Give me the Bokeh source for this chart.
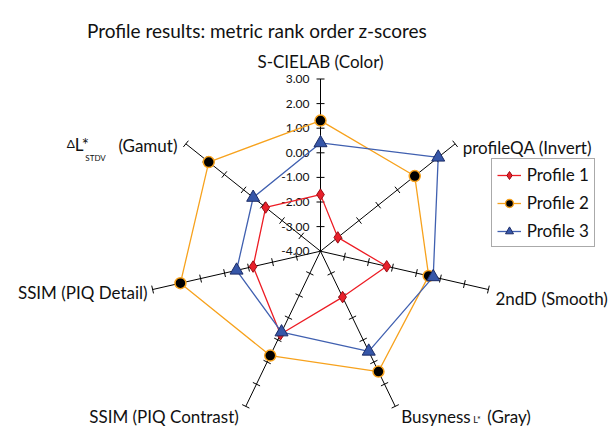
import math
from bokeh.plotting import figure
from bokeh.models import Range1d, Legend, LegendItem
from bokeh.core.properties import value
from bokeh.embed import file_html
from bokeh.resources import INLINE

# ---------------- data ----------------
metrics = ["S-CIELAB (Color)", "profileQA (Invert)", "2ndD (Smooth)",
           "Busyness (Gray)", "SSIM (PIQ Contrast)", "SSIM (PIQ Detail)",
           "ΔL* (Gamut)"]
series_names = ["Profile 1", "Profile 2", "Profile 3"]
profile1 = [-1.70, -3.10, -1.24, -1.93, -0.25, -1.19, -1.15]
profile2 = [1.31, 0.90, 0.51, 1.43, 0.71, 1.84, 1.81]
profile3 = [0.40, 2.12, 0.70, 0.52, -0.35, -0.50, -0.50]
tick_values = [-4, -3, -2, -1, 0, 1, 2, 3]
tick_labels = ["-4.00", "-3.00", "-2.00", "-1.00", "0.00", "1.00", "2.00", "3.00"]
title_text = "Profile results: metric rank order z-scores"

# ---------------- layout ----------------
W, H = 615, 426
S = 24.6            # px per unit
CX, CY = 320.0, 250.7   # pixel coords of centre
R_MIN, R_MAX = tick_values[0], tick_values[-1]
FONT = "Lato"

def px(dx, dy):
    """pixel offset (dy downward) -> data offset"""
    return dx / S, -dy / S

p = figure(width=W, height=H, output_backend="svg", toolbar_location=None,
           x_range=Range1d(-CX / S, (W - CX) / S),
           y_range=Range1d((CY - H) / S, CY / S),
           min_border=0, outline_line_color=None)
p.axis.visible = False
p.grid.visible = False

n = len(metrics)
angles = [math.pi / 2 - k * 2 * math.pi / n for k in range(n)]
rmax = R_MAX - R_MIN

# axes
p.segment(x0=[0] * n, y0=[0] * n,
          x1=[rmax * math.cos(a) for a in angles],
          y1=[rmax * math.sin(a) for a in angles],
          line_color="black", line_width=1)

# tick marks
half = 4.0 / S
tx0, ty0, tx1, ty1 = [], [], [], []
for a in angles:
    c, s_ = math.cos(a), math.sin(a)
    for t in tick_values[1:]:
        r = t - R_MIN
        x, y = r * c, r * s_
        tx0.append(x - s_ * half); ty0.append(y + c * half)
        tx1.append(x + s_ * half); ty1.append(y - c * half)
p.segment(x0=tx0, y0=ty0, x1=tx1, y1=ty1, line_color="black", line_width=1)

# tick labels on first axis
lx, _ = px(-11, 0)
p.text(x=[lx] * len(tick_values), y=[t - R_MIN for t in tick_values],
       text=tick_labels, text_font=value(FONT), text_font_size="12px",
       text_align="right", text_baseline="middle", text_color="#111111")

# series
styles = [
    dict(line="#ed1c24", marker="diamond", size=11.5,
         fill="#e8202a", outline="#9a0d14", lw=1),
    dict(line="#f7a21d", marker="circle", size=11,
         fill="black", outline="#f7a21d", lw=1.5),
    dict(line="#4060b0", marker="triangle", size=13,
         fill="#3656a8", outline="#1c2c66", lw=1),
]
items = []
for name, vals, st in zip(series_names, [profile1, profile2, profile3], styles):
    xs = [(v - R_MIN) * math.cos(a) for v, a in zip(vals, angles)]
    ys = [(v - R_MIN) * math.sin(a) for v, a in zip(vals, angles)]
    lr = p.line(xs + xs[:1], ys + ys[:1], line_color=st["line"], line_width=1.3)
    sr = p.scatter(xs, ys, marker=st["marker"], size=st["size"],
                   fill_color=st["fill"], line_color=st["outline"],
                   line_width=st["lw"])
    items.append(LegendItem(label=name, renderers=[lr, sr]))

# axis labels
def end(k):
    return rmax * math.cos(angles[k]), rmax * math.sin(angles[k])

def label(k, dx, dy, txt, align="left", size="17px"):
    ex, ey = end(k)
    ox, oy = px(dx, dy)
    p.text(x=[ex + ox], y=[ey + oy], text=[txt], text_font=value(FONT),
           text_font_size=size, text_align=align, text_baseline="alphabetic",
           text_color="#111111")

label(0, 0, -17.5, metrics[0], align="center")
label(1, 7.5, 3.7, metrics[1])
label(2, 7, 9, metrics[2])
label(3, 6, 10.5, "Busyness")
label(3, 78, 13.5, "L*", size="9px")
label(3, 92, 10.5, "(Gray)")
label(4, -7, 10.5, metrics[4], align="right")
label(5, -5, 3, metrics[5], align="right")
label(6, -8.4, 1.7, "(Gamut)", align="right")
label(6, -119, 0, "Δ", size="12px")
label(6, -111, 0.3, "L*", size="17px")
label(6, -100.5, 14.5, "STDV", size="8px")

# title
tx, ty = px(256.5 - CX, 29.5 - CY)
p.text(x=[tx], y=[ty], text=[title_text], text_font=value(FONT),
       text_font_size="19px", text_align="center", text_baseline="alphabetic",
       text_color="#111111")

legend = Legend(items=items, location=(490.7, 178.7), padding=5, spacing=7,
                glyph_width=24, glyph_height=20, label_height=20,
                label_standoff=6, label_text_font=FONT,
                label_text_font_size="17px", label_text_color="#111111",
                border_line_color="#555555", border_line_width=1,
                background_fill_color="white", margin=0)
p.add_layout(legend)

open("out.html", "w").write(file_html(p, INLINE))
